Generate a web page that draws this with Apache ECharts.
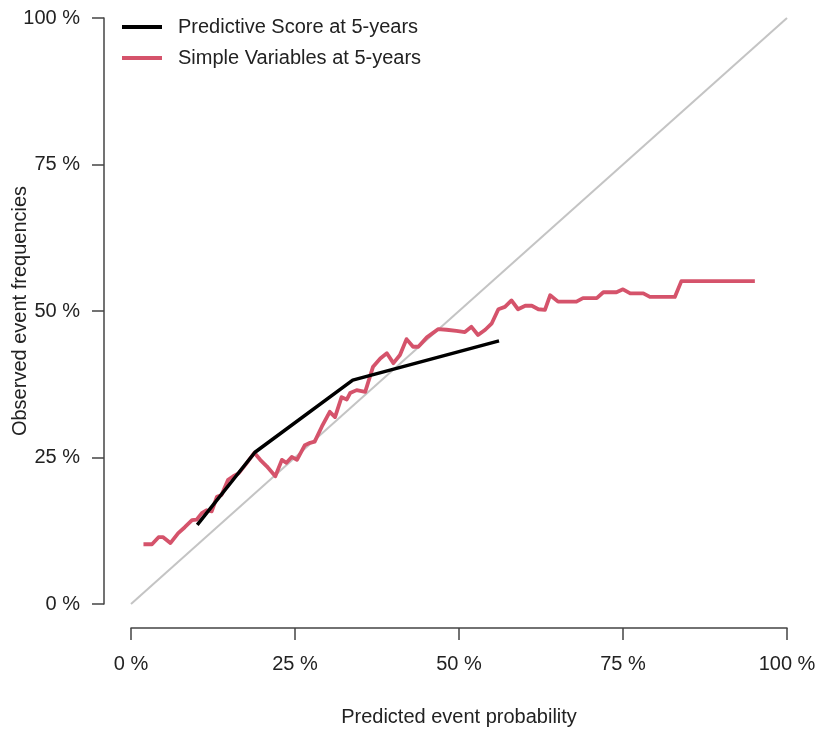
<!DOCTYPE html>
<html>
<head>
<meta charset="utf-8">
<script src="https://cdn.jsdelivr.net/npm/echarts@6/dist/echarts.min.js"></script>
<style>html,body{margin:0;padding:0;background:#fff}#c{width:819px;height:731px}</style>
</head>
<body>
<div id="c"></div>
<script>
const xTicks = [0, 25, 50, 75, 100];
const yTicks = [0, 25, 50, 75, 100];
const diagonalX = [0, 100];
const diagonalY = [0, 100];

const scoreName = 'Predictive Score at 5-years';
const scoreX = [10.1, 18.9, 33.8, 56.1];
const scoreY = [13.5, 25.9, 38.2, 44.9];

const simpleName = 'Simple Variables at 5-years';
const simpleX = [1.9, 3.2, 4.2, 4.9, 6.0, 7.2, 8.2, 9.3, 10.0, 10.8, 11.5, 12.3, 13.1, 13.8, 14.8, 15.6, 16.4, 17.4, 18.8,
  19.7, 20.7, 22.0, 23.0, 23.7, 24.5, 25.3, 26.5, 27.3, 28.0, 29.1, 30.3, 31.1, 32.1, 32.9, 33.4, 34.4, 35.7,
  36.9, 38.0, 39.0, 40.0, 41.0, 42.0, 43.0, 43.8, 45.1, 46.8, 48.1, 49.6, 50.9, 51.9, 52.9, 54.0, 55.0, 56.0,
  57.0, 58.0, 59.0, 60.1, 61.1, 62.1, 63.1, 63.9, 65.1, 67.9, 68.9, 71.0, 72.0, 74.0, 75.0, 76.1, 78.1, 79.1,
  82.9, 83.9, 95.1];
const simpleY = [10.2, 10.2, 11.4, 11.4, 10.4, 12.1, 13.1, 14.3, 14.4, 15.5, 16.0, 15.8, 18.3, 18.6, 21.2, 21.8, 22.3, 23.7, 25.8,
  24.6, 23.5, 21.8, 24.6, 24.1, 25.1, 24.6, 27.1, 27.5, 27.7, 30.3, 32.8, 31.9, 35.3, 34.9, 36.0, 36.5, 36.2,
  40.5, 41.9, 42.8, 41.1, 42.5, 45.2, 43.9, 43.9, 45.5, 46.9, 46.8, 46.6, 46.4, 47.3, 45.9, 46.8, 47.9, 50.3,
  50.7, 51.8, 50.3, 50.9, 50.9, 50.3, 50.2, 52.7, 51.6, 51.6, 52.2, 52.2, 53.2, 53.2, 53.7, 53.0, 53.0, 52.4,
  52.4, 55.1, 55.1];

const zip = (a, b) => a.map((v, i) => [v, b[i]]);
const font = 'Liberation Sans, Arial, sans-serif';
const txt = '#222';
const axisCol = '#444';

const chart = echarts.init(document.getElementById('c'), null, {renderer: 'canvas'});
chart.setOption({
  animation: false,
  backgroundColor: '#fff',
  grid: {left: 131, right: 32, top: 18, bottom: 127, containLabel: false, outerBoundsMode: 'none'},
  legend: {
    orient: 'vertical', left: 117, top: 12, itemGap: 11,
    itemWidth: 40, itemHeight: 4, icon: 'rect',
    data: [scoreName, simpleName],
    textStyle: {fontFamily: font, fontSize: 20, color: txt, padding: [0, 0, 0, 11]}
  },
  xAxis: {
    type: 'value', min: 0, max: 100, interval: 25, offset: 24,
    name: 'Predicted event probability', nameLocation: 'middle', nameGap: 79, nameMoveOverlap: false,
    nameTextStyle: {fontFamily: font, fontSize: 20, color: txt},
    axisLine: {show: true, onZero: false, lineStyle: {color: axisCol, width: 1.5}},
    axisTick: {show: true, inside: false, length: 12, lineStyle: {color: axisCol, width: 1.5}},
    axisLabel: {fontFamily: font, fontSize: 20, color: txt, margin: 26,
      formatter: v => xTicks.includes(v) ? v + ' %' : ''},
    splitLine: {show: false}
  },
  yAxis: {
    type: 'value', min: 0, max: 100, interval: 25, offset: 27,
    name: 'Observed event frequencies', nameLocation: 'middle', nameGap: 74, nameRotate: 90, nameMoveOverlap: false,
    nameTextStyle: {fontFamily: font, fontSize: 20, color: txt},
    axisLine: {show: true, onZero: false, lineStyle: {color: axisCol, width: 1.5}},
    axisTick: {show: true, inside: false, length: 12, lineStyle: {color: axisCol, width: 1.5}},
    axisLabel: {fontFamily: font, fontSize: 20, color: txt, margin: 24,
      formatter: v => yTicks.includes(v) ? v + ' %' : ''},
    splitLine: {show: false}
  },
  series: [
    {
      type: 'line', name: 'diag', data: zip(diagonalX, diagonalY), silent: true, symbol: 'none',
      lineStyle: {color: '#c4c4c4', width: 2}, z: 1
    },
    {
      type: 'line', name: simpleName, data: zip(simpleX, simpleY), symbol: 'none',
      itemStyle: {color: '#d5536b'},
      lineStyle: {color: '#d5536b', width: 3.8, join: 'round'}, z: 2
    },
    {
      type: 'line', name: scoreName, data: zip(scoreX, scoreY), symbol: 'none',
      itemStyle: {color: '#000'},
      lineStyle: {color: '#000', width: 3.5}, z: 3
    }
  ]
});
</script>
</body>
</html>
